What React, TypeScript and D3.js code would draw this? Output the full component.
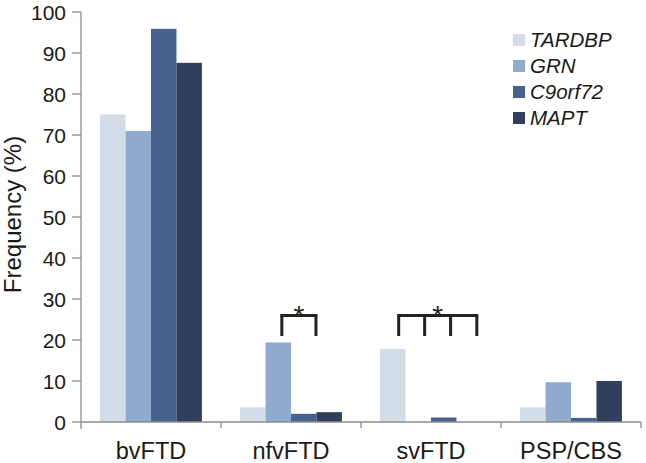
import React from "react";
import * as d3 from "d3";

const categories = ["bvFTD", "nfvFTD", "svFTD", "PSP/CBS"];
const seriesNames = ["TARDBP", "GRN", "C9orf72", "MAPT"];
const TARDBP = [75, 3.6, 17.8, 3.6];
const GRN = [71, 19.4, 0, 9.7];
const C9orf72 = [95.9, 2.0, 1.1, 1.0];
const MAPT = [87.6, 2.4, 0, 10.0];
const seriesValues = [TARDBP, GRN, C9orf72, MAPT];
const colors = ["#d3dde9", "#91aacf", "#48628f", "#2f3f5d"];
const yTicks = [0, 10, 20, 30, 40, 50, 60, 70, 80, 90, 100];
// significance brackets: category index, leg positions in bar units
const brackets = [
  { cat: 1, legs: [1.64, 2.98] },
  { cat: 2, legs: [0.73, 1.75, 2.77, 3.8] },
];

const W = 646;
const H = 463;
const left = 81;
const right = 641;
const top = 12;
const bottom = 422;

export default function App() {
  const x = d3.scaleBand<string>().domain(categories).range([left, right]).padding(0);
  const inner = d3
    .scaleBand<string>()
    .domain(seriesNames)
    .range([0, x.bandwidth()])
    .paddingInner(0)
    .paddingOuter(0.75);
  const y = d3.scaleLinear().domain([0, 100]).range([bottom, top]);
  const bw = inner.bandwidth();
  const g0 = inner(seriesNames[0]) as number;
  const axisColor = "#8c8c8c";
  const font = "'Liberation Sans', Arial, sans-serif";

  return (
    <svg
      width={W}
      height={H}
      style={{ position: "absolute", left: 0, top: 0, background: "#fff" }}
      fontFamily={font}
    >
      {/* bars */}
      {seriesNames.map((s, si) =>
        categories.map((c, ci) => {
          const v = seriesValues[si][ci];
          if (v <= 0) return null;
          return (
            <rect
              key={s + c}
              x={(x(c) as number) + (inner(s) as number)}
              y={y(v)}
              width={bw}
              height={y(0) - y(v)}
              fill={colors[si]}
            />
          );
        })
      )}
      {/* y axis */}
      <line x1={left} x2={left} y1={top} y2={bottom + 7} stroke={axisColor} strokeWidth={1.3} />
      {yTicks.map((t) => (
        <g key={t}>
          <line x1={left - 9} x2={left} y1={y(t)} y2={y(t)} stroke={axisColor} strokeWidth={1.3} />
          <text x={left - 15} y={y(t)} dy="0.36em" textAnchor="end" fontSize={21} fill="#1a1a1a">
            {t}
          </text>
        </g>
      ))}
      {/* x axis */}
      <line x1={left} x2={right} y1={bottom} y2={bottom} stroke={axisColor} strokeWidth={1.3} />
      {categories.map((c) => (
        <g key={c}>
          <line
            x1={(x(c) as number) + x.bandwidth()}
            x2={(x(c) as number) + x.bandwidth()}
            y1={bottom}
            y2={bottom + 6}
            stroke={axisColor}
            strokeWidth={1.3}
          />
          <text
            x={(x(c) as number) + x.bandwidth() / 2}
            y={459}
            textAnchor="middle"
            fontSize={23.5}
            fill="#1a1a1a"
          >
            {c}
          </text>
        </g>
      ))}
      {/* y label */}
      <text
        transform={`translate(21, ${(127 + 302) / 2}) rotate(-90)`}
        textAnchor="middle"
        fontSize={24}
        fill="#1a1a1a"
      >
        Frequency (%)
      </text>
      {/* brackets */}
      {brackets.map((b, bi) => {
        const base = (x(categories[b.cat]) as number) + g0;
        const xs = b.legs.map((u) => base + u * bw);
        const x0 = xs[0];
        const x1 = xs[xs.length - 1];
        const yTop = 315.5;
        const yBot = 336;
        return (
          <g key={bi}>
            <line x1={x0 - 1.5} x2={x1 + 1.5} y1={yTop} y2={yTop} stroke="#222" strokeWidth={3} />
            {xs.map((xx, i) => (
              <line key={i} x1={xx} x2={xx} y1={yTop} y2={yBot} stroke="#222" strokeWidth={3} />
            ))}
            <text x={(x0 + x1) / 2} y={325} textAnchor="middle" fontSize={28} fill="#222">
              *
            </text>
          </g>
        );
      })}
      {/* legend */}
      {seriesNames.map((s, i) => (
        <g key={s} transform={`translate(513, ${40 + i * 26})`}>
          <rect x={0} y={-6} width={12} height={12} fill={colors[i]} />
          <text x={17} y={0} dy="0.36em" fontSize={20.5} fontStyle="italic" fill="#1a1a1a">
            {s}
          </text>
        </g>
      ))}
    </svg>
  );
}
